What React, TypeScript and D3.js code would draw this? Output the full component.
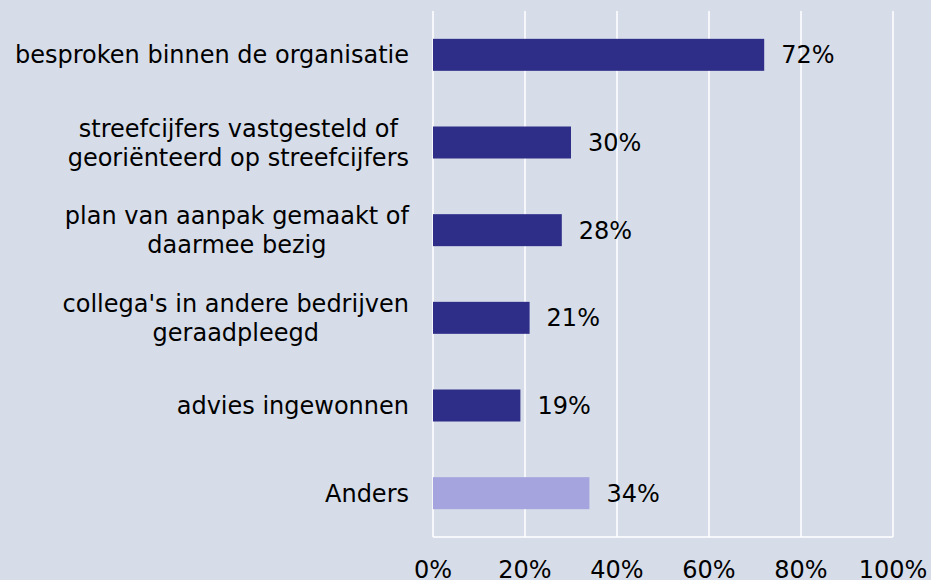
import React, { useRef, useEffect } from "react";
import * as d3 from "d3";

const categories = [
  "besproken binnen de organisatie",
  "streefcijfers vastgesteld of\ngeoriënteerd op streefcijfers",
  "plan van aanpak gemaakt of\ndaarmee bezig",
  "collega's in andere bedrijven\ngeraadpleegd",
  "advies ingewonnen",
  "Anders",
];
const values = [0.72, 0.3, 0.28, 0.21, 0.19, 0.34];
const valueLabels = ["72%", "30%", "28%", "21%", "19%", "34%"];
const ticks = [0, 0.2, 0.4, 0.6, 0.8, 1];

const WIDTH = 931;
const HEIGHT = 580;
const FONT = "'DejaVu Sans', Verdana, sans-serif";

function BarChart() {
  const ref = useRef<SVGSVGElement>(null);

  useEffect(() => {
    const svg = d3.select(ref.current);
    svg.selectAll("*").remove();

    svg
      .append("rect")
      .attr("width", WIDTH)
      .attr("height", HEIGHT)
      .attr("fill", "#d6dde9");

    const x = d3.scaleLinear().domain([0, 1]).range([433, 893]);
    const y = d3
      .scaleBand()
      .domain(categories)
      .range([11, 537])
      .paddingInner(0.635)
      .paddingOuter(0.3175);

    // gridlines
    svg
      .append("g")
      .selectAll("line")
      .data(ticks)
      .join("line")
      .attr("x1", (d) => x(d))
      .attr("x2", (d) => x(d))
      .attr("y1", 11)
      .attr("y2", 537)
      .attr("stroke", "#ffffff")
      .attr("stroke-width", 1.5);

    svg
      .append("line")
      .attr("x1", x(0))
      .attr("x2", x(1))
      .attr("y1", 537)
      .attr("y2", 537)
      .attr("stroke", "#ffffff")
      .attr("stroke-width", 1.5);

    // bars
    svg
      .append("g")
      .selectAll("rect")
      .data(values)
      .join("rect")
      .attr("x", x(0))
      .attr("y", (d, i) => y(categories[i])!)
      .attr("width", (d) => x(d) - x(0))
      .attr("height", y.bandwidth())
      .attr("fill", (d, i) => (i === categories.length - 1 ? "#a5a4de" : "#2e2d88"));

    // value labels
    svg
      .append("g")
      .selectAll("text")
      .data(values)
      .join("text")
      .attr("x", (d) => x(d) + 17)
      .attr("y", (d, i) => y(categories[i])! + y.bandwidth() / 2)
      .attr("dy", "0.36em")
      .attr("font-family", FONT)
      .attr("font-size", 24)
      .attr("fill", "#000")
      .text((d, i) => valueLabels[i]);

    // category labels: block right-aligned, lines centred within block
    categories.forEach((cat) => {
      const lines = cat.split("\n");
      const cy = y(cat)! + y.bandwidth() / 2;
      const g = svg.append("g");
      const texts = lines.map((ln, j) =>
        g
          .append("text")
          .attr("y", cy + (j - (lines.length - 1) / 2) * 29)
          .attr("dy", "0.36em")
          .attr("text-anchor", "middle")
          .attr("font-family", FONT)
          .attr("font-size", 24)
          .attr("fill", "#000")
          .text(ln)
      );
      const maxW = d3.max(texts, (t) => (t.node() as SVGTextElement).getComputedTextLength()) || 0;
      texts.forEach((t) => t.attr("x", 409 - maxW / 2));
    });

    // x axis tick labels
    svg
      .append("g")
      .selectAll("text")
      .data(ticks)
      .join("text")
      .attr("x", (d) => x(d))
      .attr("y", 578)
      .attr("text-anchor", "middle")
      .attr("font-family", FONT)
      .attr("font-size", 24)
      .attr("fill", "#000")
      .text((d) => d3.format(".0%")(d));
  }, []);

  return <svg ref={ref} width={WIDTH} height={HEIGHT} style={{ display: "block" }}></svg>;
}

export default function App() {
  return (
    <div style={{ position: "absolute", left: 0, top: 0 }}>
      <BarChart />
    </div>
  );
}
